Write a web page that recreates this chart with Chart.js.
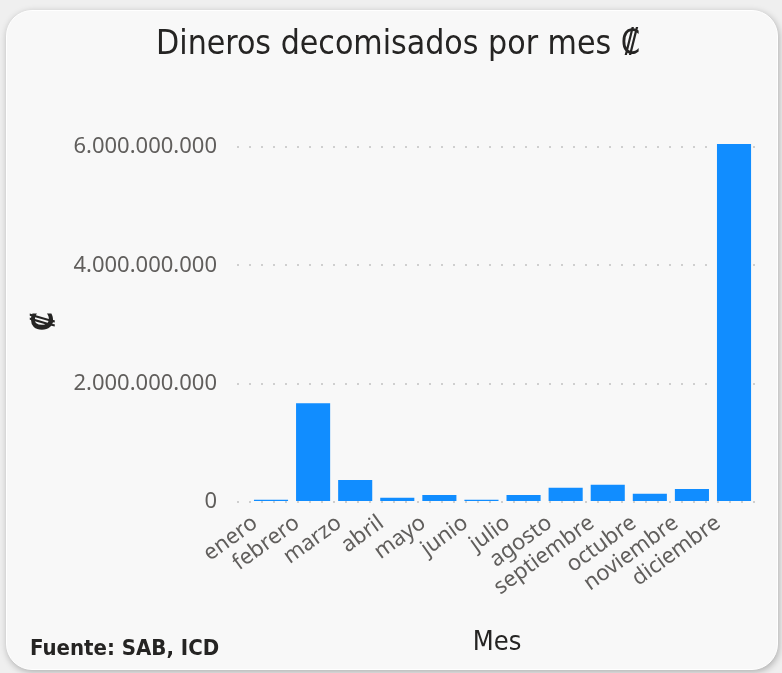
<!DOCTYPE html>
<html>
<head>
<meta charset="utf-8">
<script src="https://cdn.jsdelivr.net/npm/chart.js@4.4.1/dist/chart.umd.min.js"></script>
<style>
  html, body { margin: 0; padding: 0; }
  body { width: 782px; height: 673px; background: #efefef; position: relative; overflow: hidden; }
  #card { position: absolute; left: 6px; top: 10px; width: 770px; height: 658px; border-radius: 26px;
          background: #f8f8f8; border: 1.5px solid #ffffff; box-shadow: 1px 2px 7px rgba(0,0,0,0.28); }
  #chart { position: absolute; left: 0; top: 0; }
  #footer { position: absolute; left: 30px; top: 637px; font: bold 22px "DejaVu Sans Condensed", sans-serif;
            line-height: 22px; color: #252423; white-space: nowrap; }
</style>
</head>
<body>
<div id="card"></div>
<canvas id="chart" width="782" height="673"></canvas>
<div id="footer">Fuente: SAB, ICD</div>
<script>
const months = ["enero","febrero","marzo","abril","mayo","junio","julio","agosto","septiembre","octubre","noviembre","diciembre"];
const values = [40000000, 1670000000, 370000000, 70000000, 120000000, 40000000, 120000000, 240000000, 290000000, 140000000, 220000000, 6050000000];
const yTicks = [0, 2000000000, 4000000000, 6000000000];
const titleText = "Dineros decomisados por mes \u20A1";
const yTitle = "\u20A1";
const xTitle = "Mes";

function fmt(v) {
  return String(Math.round(v)).replace(/\B(?=(\d{3})+(?!\d))/g, ".");
}

const tickFont = { family: "'Noto Sans', sans-serif", size: 22 };
const condensed = "'DejaVu Sans Condensed', sans-serif";

new Chart(document.getElementById("chart"), {
  type: "bar",
  data: {
    datasets: [{
      data: values.map((v, i) => ({ x: i, y: v })),
      backgroundColor: "#118DFF",
      borderWidth: 0,
      categoryPercentage: 1,
      barPercentage: 0.81
    }]
  },
  options: {
    responsive: false,
    animation: false,
    layout: { padding: { left: 14, right: 0, top: 0, bottom: 0 } },
    plugins: {
      legend: { display: false },
      tooltip: { enabled: false },
      title: {
        display: true,
        text: titleText,
        color: "#252423",
        font: { family: condensed, size: 33.5, weight: "normal" },
        padding: { top: 25, bottom: 75.8 }
      }
    },
    scales: {
      x: {
        type: "linear",
        offset: false,
        min: -0.808,
        max: 11.546,
        grid: { display: false, offset: false },
        border: { display: false },
        afterBuildTicks: (s) => { s.ticks = months.map((m, i) => ({ value: i })); },
        afterFit: (s) => { s.height = 171; },
        ticks: {
          color: "#605E5C",
          font: tickFont,
          minRotation: 36,
          maxRotation: 36,
          padding: 0,
          labelOffset: -16,
          autoSkip: false,
          callback: (v) => months[v]
        },
        title: {
          display: true,
          text: xTitle,
          color: "#252423",
          font: { family: condensed, size: 27, weight: "normal" },
          padding: { top: 0, bottom: 14 }
        }
      },
      y: {
        min: 0,
        max: 6100000000,
        afterBuildTicks: (s) => { s.ticks = yTicks.map(v => ({ value: v })); },
        afterFit: (s) => { s.width = 223; },
        grid: {
          drawTicks: false,
          color: "#cfcfcf",
          lineWidth: 2
        },
        border: { display: false, dash: [2, 10] },
        ticks: {
          color: "#605E5C",
          font: tickFont,
          padding: 20,
          callback: (v) => fmt(v)
        },
        title: {
          display: true,
          text: yTitle,
          color: "#252423",
          font: { family: condensed, size: 31, weight: "bold" },
          padding: { top: 12, bottom: 0 }
        }
      },
      yRight: {
        position: "right",
        display: true,
        min: 0,
        max: 1,
        grid: { display: false },
        border: { display: false },
        ticks: { display: false },
        afterFit: (s) => { s.width = 25; }
      }
    }
  }
});
</script>
</body>
</html>
